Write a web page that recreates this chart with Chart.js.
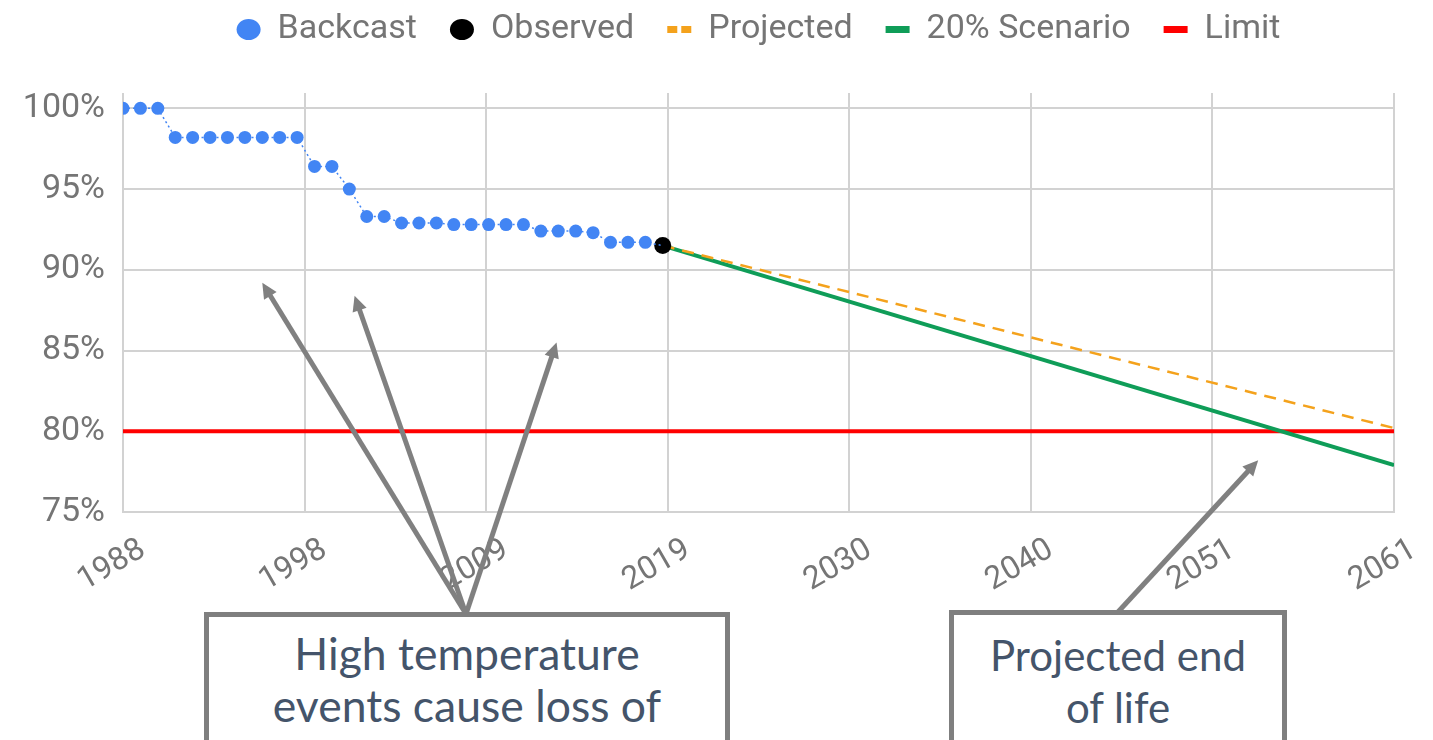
<!DOCTYPE html>
<html lang="en">
<head>
  <meta charset="UTF-8">
  <title>Capacity backcast and projection</title>
  <script src="https://cdn.jsdelivr.net/npm/chart.js"></script>
  <style>
    body { margin: 0; background: #fff; overflow: hidden; }
    #wrap { position: relative; width: 1433px; height: 740px; overflow: hidden; }
    .note {
      position: absolute;
      box-sizing: border-box;
      background: #fff;
      border: 5px solid #7f7f7f;
      color: #44546a;
      font-family: Lato, 'Open Sans', sans-serif;
      text-align: center;
    }
  </style>
</head>
<body>
  <div id="wrap">
    <canvas id="myChart"></canvas>
    <div class="note" style="left:204px; top:612px; width:526px; height:200px; font-size:44.5px; line-height:52px; padding-top:10px;">High temperature<br>events cause loss of</div>
    <div class="note" style="left:949px; top:610px; width:338px; height:200px; font-size:42px; line-height:52px; padding-top:14px;">Projected end<br>of life</div>
  </div>

  <script>
    // years and values
    const backcastYears = [1988, 1989, 1990, 1991, 1992, 1993, 1994, 1995, 1996, 1997, 1998,
      1999, 2000, 2001, 2002, 2003, 2004, 2005, 2006, 2007, 2008, 2009, 2010, 2011,
      2012, 2013, 2014, 2015, 2016, 2017, 2018, 2019];
    const backcastValues = [100, 100, 100, 98.2, 98.2, 98.2, 98.2, 98.2, 98.2, 98.2, 98.2,
      96.4, 96.4, 95.0, 93.3, 93.3, 92.9, 92.9, 92.9, 92.8, 92.8, 92.8, 92.8, 92.8,
      92.4, 92.4, 92.4, 92.3, 91.7, 91.7, 91.7, 91.5];

    const observedYears = [2019];
    const observedValues = [91.5];

    const projectionYears = [2019, 2061];
    const projectedValues = [91.5, 80.2];
    const scenarioValues = [91.5, 77.9];

    const limitYears = [1988, 2061];
    const limitValues = [80, 80];

    const xTickLabels = ['1988', '1998', '2009', '2019', '2030', '2040', '2051', '2061'];
    const xMin = 1988, xMax = 2061;
    // the plot runs a little above the 100% line, as in the picture
    const yMin = 75, yMax = 100.95;

    // arrow tips in data units, tails in page pixels (top of the note boxes)
    const arrows = [
      { tail: [466, 614], tip: [1996.0, 89.2] },
      { tail: [466, 614], tip: [2001.3, 88.4] },
      { tail: [466, 614], tip: [2012.9, 85.5] },
      { tail: [1118, 612], tip: [2053.2, 78.2] },
    ];

    const pts = (xs, ys) => xs.map((x, i) => ({ x, y: ys[i] }));

    Chart.defaults.font.family = 'Roboto';
    Chart.defaults.color = '#757575';

    const gridColor = '#d2d2d2';

    // keep the legend row high up and push the plot down to where it sits in the picture
    const legendSpace = {
      id: 'legendSpace',
      beforeInit(chart) {
        const fit = chart.legend.fit;
        chart.legend.fit = function () {
          fit.call(this);
          this.height = 113.5;
        };
      }
    };

    const arrowPlugin = {
      id: 'arrows',
      afterDraw(chart) {
        const { ctx, scales } = chart;
        ctx.save();
        ctx.strokeStyle = '#808080';
        ctx.fillStyle = '#808080';
        ctx.lineWidth = 5;
        arrows.forEach(a => {
          const x0 = a.tail[0], y0 = a.tail[1];
          const x1 = scales.x.getPixelForValue(a.tip[0]);
          const y1 = scales.y.getPixelForValue(a.tip[1]);
          const ang = Math.atan2(y1 - y0, x1 - x0);
          const head = 17;
          ctx.beginPath();
          ctx.moveTo(x0, y0);
          ctx.lineTo(x1 - Math.cos(ang) * head * 0.8, y1 - Math.sin(ang) * head * 0.8);
          ctx.stroke();
          ctx.beginPath();
          ctx.moveTo(x1, y1);
          ctx.lineTo(x1 - head * Math.cos(ang - 0.45), y1 - head * Math.sin(ang - 0.45));
          ctx.lineTo(x1 - head * Math.cos(ang + 0.45), y1 - head * Math.sin(ang + 0.45));
          ctx.closePath();
          ctx.fill();
        });
        ctx.restore();
      }
    };

    const lastBackcast = backcastYears.length - 1;

    const data = {
      datasets: [
        {
          label: 'Backcast',
          data: pts(backcastYears, backcastValues),
          borderColor: '#4285f4',
          backgroundColor: '#4285f4',
          borderWidth: 1.5,
          borderDash: [2, 3],
          // the 2019 point is shown by the Observed marker
          pointRadius: (c) => c.dataIndex === lastBackcast ? 0 : 6.5,
          pointBorderWidth: 0,
          pointStyle: 'circle',
        },
        {
          label: 'Observed',
          data: pts(observedYears, observedValues),
          borderColor: '#000',
          backgroundColor: '#000',
          pointRadius: 8.5,
          pointBorderWidth: 0,
          showLine: false,
          pointStyle: 'circle',
        },
        {
          label: 'Projected',
          data: pts(projectionYears, projectedValues),
          borderColor: '#f4a21c',
          backgroundColor: '#f4a21c',
          borderWidth: 2.5,
          borderDash: [12, 8],
          pointRadius: 0,
          pointStyle: 'line',
        },
        {
          label: '20% Scenario',
          data: pts(projectionYears, scenarioValues),
          borderColor: '#0f9d58',
          backgroundColor: '#0f9d58',
          borderWidth: 4,
          pointRadius: 0,
          pointStyle: 'line',
        },
        {
          label: 'Limit',
          data: pts(limitYears, limitValues),
          borderColor: '#ff0000',
          backgroundColor: '#ff0000',
          borderWidth: 4,
          pointRadius: 0,
          pointStyle: 'line',
        },
      ]
    };

    const options = {
      responsive: true,
      maintainAspectRatio: false,
      animation: false,
      layout: { padding: { top: -20.5, right: 39, bottom: 0, left: 0 } },
      scales: {
        x: {
          type: 'linear',
          min: xMin,
          max: xMax,
          afterBuildTicks: (scale) => {
            scale.ticks = xTickLabels.map((l, i) => ({ value: xMin + i * (xMax - xMin) / (xTickLabels.length - 1) }));
          },
          afterFit: (scale) => { scale.height = 228; },
          grid: { color: gridColor, lineWidth: 2, drawTicks: false },
          border: { color: gridColor, width: 2 },
          ticks: {
            autoSkip: false,
            minRotation: 30,
            maxRotation: 30,
            labelOffset: 20,
            padding: 19,
            font: { size: 32 },
            callback: (v, i) => xTickLabels[i],
          },
        },
        y: {
          min: yMin,
          max: yMax,
          afterFit: (scale) => { scale.width = 123; },
          grid: { color: gridColor, lineWidth: 2, drawTicks: false },
          border: { display: false },
          ticks: {
            stepSize: 5,
            includeBounds: false,
            padding: 18,
            font: { size: 34 },
            callback: (v) => v + '%',
          },
        },
      },
      plugins: {
        legend: {
          position: 'top',
          fullSize: false,
          labels: {
            usePointStyle: true,
            boxHeight: 15,
            pointStyleWidth: 24,
            padding: 33,
            color: '#757575',
            font: { size: 34 },
            generateLabels: (chart) => {
              const items = Chart.defaults.plugins.legend.labels.generateLabels(chart);
              items.forEach(item => {
                if (item.pointStyle === 'line') {
                  item.lineWidth = 7;
                  item.lineDash = item.text === 'Projected' ? [10, 4] : [];
                } else {
                  item.lineWidth = 0;
                }
              });
              return items;
            },
          }
        },
        tooltip: { enabled: false },
      }
    };

    const ctx = document.getElementById('myChart').getContext('2d');
    const myChart = new Chart(ctx, {
      type: 'line',
      data: data,
      options: options,
      plugins: [legendSpace, arrowPlugin],
    });
  </script>
</body>
</html>
